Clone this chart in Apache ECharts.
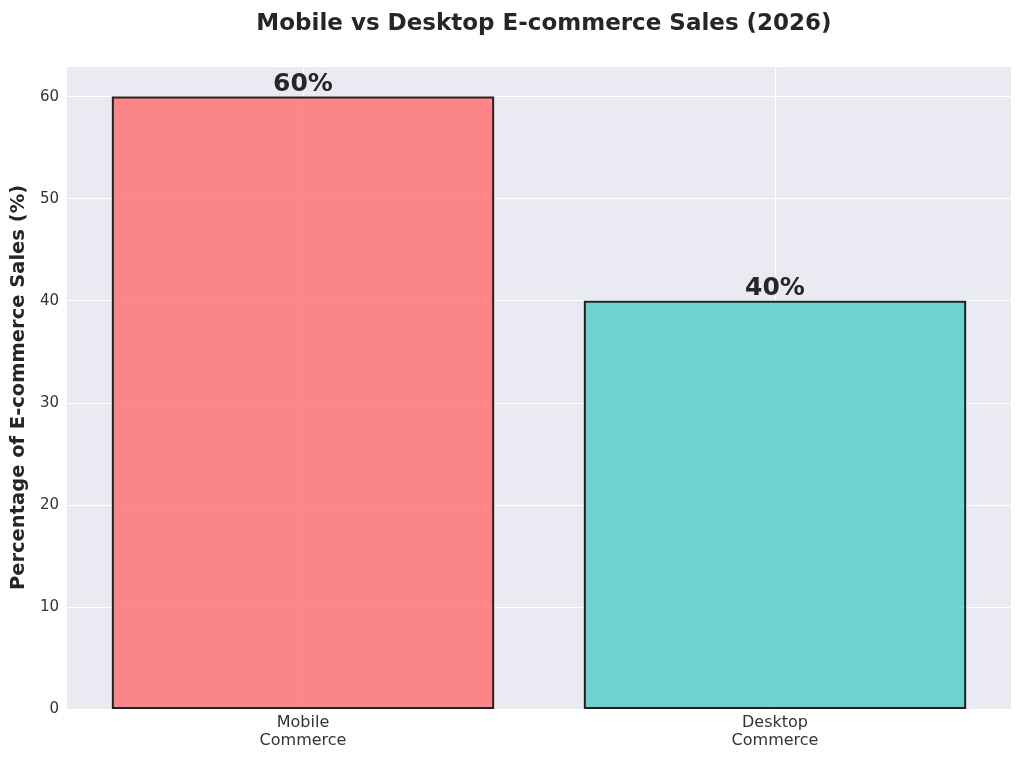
<!DOCTYPE html>
<html>
<head>
<meta charset="utf-8">
<script src="https://cdn.jsdelivr.net/npm/echarts@6/dist/echarts.min.js"></script>
<style>
html,body{margin:0;padding:0;background:#fff;}
#chart{width:1024px;height:762px;}
</style>
</head>
<body>
<div id="chart"></div>
<script>
var categories = ['Mobile\nCommerce', 'Desktop\nCommerce'];
var shares = [60, 40];
var barColors = ['rgba(255,107,107,0.8)', 'rgba(78,205,196,0.8)'];

var chart = echarts.init(document.getElementById('chart'));
var font = 'DejaVu Sans';

var option = {
	backgroundColor: '#fff',
	animation: false,
	title: {
		text: 'Mobile vs Desktop E-commerce Sales (2026)',
		left: 539,
		textAlign: 'center',
		top: 8,
		textStyle: {fontFamily: font, fontSize: 23, fontWeight: 'bold', color: '#262626'}
	},
	grid: { // 绘图区
		left: 67,
		right: 13,
		top: 66,
		bottom: 53,
		containLabel: false,
		show: true,
		backgroundColor: '#eaeaf2',
		borderWidth: 0
	},
	xAxis: {
		type: 'category',
		data: categories,
		axisLine: {show: false},
		axisTick: {show: false},
		splitLine: {show: false},
		axisLabel: {
			fontFamily: font,
			fontSize: 16,
			color: '#333',
			lineHeight: 18,
			margin: 5
		}
	},
	yAxis: {
		type: 'value',
		min: 0,
		max: 63,
		interval: 10,
		name: 'Percentage of E-commerce Sales (%)',
		nameLocation: 'middle',
		nameGap: 35,
		nameTextStyle: {fontFamily: font, fontSize: 19.5, fontWeight: 'bold', color: '#262626'},
		axisLine: {show: false},
		axisTick: {show: false},
		axisLabel: {fontFamily: font, fontSize: 15, color: '#333', margin: 8, showMaxLabel: false},
		splitLine: {lineStyle: {color: '#fff', width: 1}}
	},
	series: [{
		// 竖向网格线，放在柱子下面
		type: 'line',
		data: [],
		z: 1,
		markLine: {
			silent: true,
			z: 1,
			symbol: 'none',
			label: {show: false},
			lineStyle: {color: '#fff', width: 1.2, type: 'solid'},
			data: categories.map(function (c) { return {xAxis: c}; })
		}
	}, {
		type: 'bar',
		z: 3,
		barWidth: '81%',
		data: shares.map(function (v, i) {
			return {value: v, itemStyle: {color: barColors[i]}};
		}),
		itemStyle: {borderColor: '#222', borderWidth: 2},
		label: {
			show: true,
			position: 'top',
			distance: 0,
			formatter: '{c}%',
			fontFamily: font,
			fontSize: 25,
			fontWeight: 'bold',
			color: '#262626'
		}
	}]
};

chart.setOption(option);
</script>
</body>
</html>
